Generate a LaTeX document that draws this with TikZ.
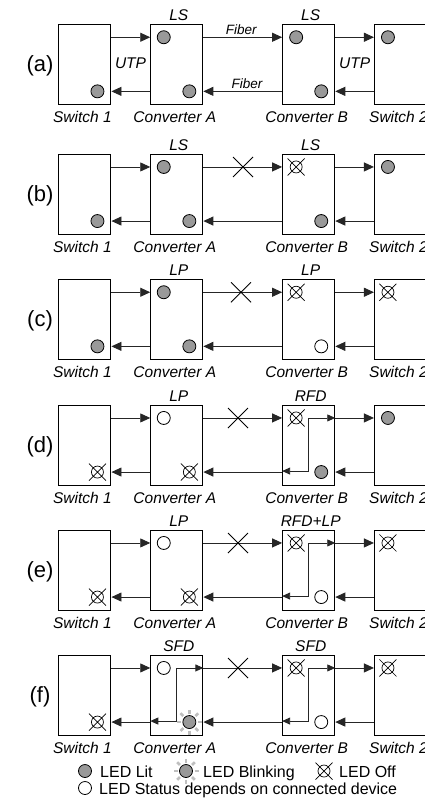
\documentclass[tikz,border=0pt]{standalone}
\usepackage{fontspec}
\setmainfont{Liberation Sans}
\usetikzlibrary{arrows.meta}

\tikzset{
    dev/.style={draw, line width=1.1pt, minimum width=52pt, minimum height=80pt, inner sep=0pt},
    conn/.style={draw=black!85, line width=0.9pt, -{Triangle[length=10pt,width=9pt]}},
    loopline/.style={draw=black!85, line width=0.9pt, {Triangle[length=8pt,width=7pt]}-{Triangle[length=8pt,width=7pt]}},
    lbl/.style={font=\fontsize{15.5}{18}\selectfont\itshape, inner sep=0pt, anchor=base},
    fiberlbl/.style={font=\fontsize{13.5}{16}\selectfont\itshape, inner sep=0pt, anchor=base},
    rowlbl/.style={font=\fontsize{22}{26}\selectfont, inner sep=0pt},
    legtxt/.style={font=\fontsize{16}{19}\selectfont, inner sep=0pt, anchor=base west},
    ledlit/.style={fill=black!40, draw=black, line width=0.8pt},
    ledopen/.style={fill=white, draw=black, line width=0.8pt},
    ledoff/.style={draw=black, line width=0.7pt},
    ray/.style={draw=black!25, line width=2.6pt},
    xmark/.style={draw=black, line width=0.8pt}
}

\begin{document}
\begin{tikzpicture}[x=1pt, y=-1pt]
    \clip (0,0) rectangle (425,803);

    % Devices, labels and links of each row
    \foreach \r/\t/\la/\lb in {a/24.3/LS/LS, b/154/LS/LS, c/279.3/LP/LP, d/405/LP/RFD, e/530/LP/RFD+LP, f/655/SFD/SFD} {
        \node[dev] (s1\r) at (84.9, \t+40.5) {};
        \node[dev] (ca\r) at (176.8, \t+40.5) {};
        \node[dev] (cb\r) at (308.7, \t+40.5) {};
        \node[dev] (s2\r) at (400.5, \t+40.5) {};
        \node[rowlbl] (n\r) at (40, \t+42) {(\r)};

        % mode above the converters
        \node[lbl] (ta\r) at ([xshift=2pt, yshift=3.6pt]ca\r.north) {\la};
        \node[lbl] (tb\r) at ([xshift=2pt, yshift=3.6pt]cb\r.north) {\lb};

        % names under the boxes
        \node[lbl] (us1\r) at ([xshift=-2.5pt, yshift=-17.5pt]s1\r.south) {Switch 1};
        \node[lbl] (uca\r) at ([xshift=-2pt, yshift=-17.5pt]ca\r.south) {Converter A};
        \node[lbl] (ucb\r) at ([xshift=-2pt, yshift=-17.5pt]cb\r.south) {Converter B};
        \node[lbl] (us2\r) at ([xshift=-2pt, yshift=-17.5pt]s2\r.south) {Switch 2};

        % links (upper goes right, lower goes left)
        \draw[conn] ([yshift=-13pt]s1\r.north east) -- ([yshift=-13pt]ca\r.north west);
        \draw[conn] ([yshift=-13pt]ca\r.north east) -- ([yshift=-13pt]cb\r.north west);
        \draw[conn] ([yshift=-13pt]cb\r.north east) -- ([yshift=-13pt]s2\r.north west);
        \draw[conn] ([yshift=14pt]ca\r.south west) -- ([yshift=14pt]s1\r.south east);
        \draw[conn] ([yshift=14pt]cb\r.south west) -- ([yshift=14pt]ca\r.south east);
        \draw[conn] ([yshift=14pt]s2\r.south west) -- ([yshift=14pt]cb\r.south east);

        % LED spots
        \coordinate (s1\r-lo) at ([shift={(-14,-14)}]s1\r.south east);
        \coordinate (ca\r-up) at ([shift={(13.5,13)}]ca\r.north west);
        \coordinate (ca\r-lo) at ([shift={(-14,-14)}]ca\r.south east);
        \coordinate (cb\r-up) at ([shift={(14,13)}]cb\r.north west);
        \coordinate (cb\r-lo) at ([shift={(-14,-14)}]cb\r.south east);
        \coordinate (s2\r-up) at ([shift={(14,13)}]s2\r.north west);
    }

    % Media of the first row
    \node[lbl] (utp1) at (130.5, 68) {UTP};
    \node[lbl] (utp2) at (354.7, 68) {UTP};
    \node[fiberlbl] (fib1) at (241.3, 34) {Fiber};
    \node[fiberlbl] (fib2) at (247, 88.5) {Fiber};

    % Broken fiber
    \foreach \t/\x in {154/243, 279.3/241, 405/238, 530/238, 655/238} {
        \draw[xmark] (\x-10, \t+3) -- (\x+10, \t+23) (\x-10, \t+23) -- (\x+10, \t+3);
    }

    % Fault loop inside converters
    \foreach \n in {cbd, cbe, cbf, caf} {
        \draw[loopline] ([yshift=15pt]\n.south west) -| ([xshift=26.5pt, yshift=-13pt]\n.north west) -- ([yshift=-13pt]\n.north east);
    }

    % LED Lit (grey dots)
    \foreach \p in {s1a-lo, caa-up, caa-lo, cba-up, cba-lo, s2a-up,
                    s1b-lo, cab-up, cab-lo, cbb-lo, s2b-up,
                    s1c-lo, cac-up, cac-lo, cbd-lo, s2d-up} {
        \filldraw[ledlit] (\p) circle (6.5);
    }

    % LED status depends on device (white dots)
    \foreach \p in {cbc-lo, cad-up, cae-up, cbe-lo, caf-up, cbf-lo} {
        \filldraw[ledopen] (\p) circle (6.5);
    }

    % LED Off (crossed circles)
    \foreach \p in {cbb-up, cbc-up, s2c-up, s1d-lo, cad-lo, cbd-up,
                    s1e-lo, cae-lo, cbe-up, s2e-up, s1f-lo, cbf-up, s2f-up} {
        \draw[ledoff] (\p) circle (6) ++(-8.5,-8.5) -- ++(17,17) ++(0,-17) -- ++(-17,17);
    }

    % LED Blinking
    \foreach \a in {0,45,...,315} {
        \draw[ray] (caf-lo) ++(\a:8.5) -- ++(\a:4);
    }
    \filldraw[ledlit] (caf-lo) circle (6.5);

    % Legend
    \filldraw[ledlit] (85,771) circle (6.5);
    \node[legtxt] (leg1) at (100,777) {LED Lit};
    \foreach \a in {0,45,...,315} {
        \draw[ray] (186,771) ++(\a:8.5) -- ++(\a:4);
    }
    \filldraw[ledlit] (186,771) circle (6.5);
    \node[legtxt] (leg2) at (203,777) {LED Blinking};
    \draw[ledoff] (324,771) circle (6) ++(-8.5,-8.5) -- ++(17,17) ++(0,-17) -- ++(-17,17);
    \node[legtxt] (leg3) at (339,777) {LED Off};
    \filldraw[ledopen] (85,788) circle (6.5);
    \node[legtxt] (leg4) at (99,794) {LED Status depends on connected device};
\end{tikzpicture}
\end{document}
